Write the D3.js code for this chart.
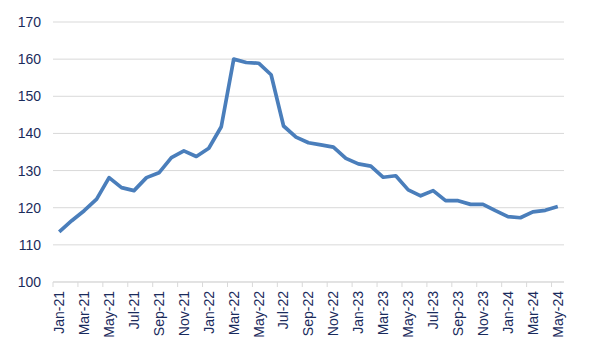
<!DOCTYPE html>
<html>
<head>
<meta charset="utf-8">
<script src="https://cdn.jsdelivr.net/npm/d3@7"></script>
<style>
  body { margin: 0; background: #fff; }
  text { font-family: "Liberation Sans", Arial, sans-serif; }
</style>
</head>
<body>
<svg id="chart" width="592" height="354"></svg>
<script>
"use strict";

var months = [
    "Jan-21","Feb-21","Mar-21","Apr-21","May-21","Jun-21","Jul-21","Aug-21","Sep-21","Oct-21","Nov-21","Dec-21",
    "Jan-22","Feb-22","Mar-22","Apr-22","May-22","Jun-22","Jul-22","Aug-22","Sep-22","Oct-22","Nov-22","Dec-22",
    "Jan-23","Feb-23","Mar-23","Apr-23","May-23","Jun-23","Jul-23","Aug-23","Sep-23","Oct-23","Nov-23","Dec-23",
    "Jan-24","Feb-24","Mar-24","Apr-24","May-24"
]

var values = [
    113.5, 116.5, 119.2, 122.3, 128.1, 125.4, 124.6, 128.1, 129.4, 133.5, 135.3, 133.8,
    136.0, 141.8, 160.0, 159.1, 158.9, 155.8, 142.0, 139.0, 137.5, 136.9, 136.3, 133.3,
    131.8, 131.2, 128.2, 128.6, 124.8, 123.2, 124.6, 121.9, 121.9, 120.9, 120.9, 119.2,
    117.6, 117.3, 118.9, 119.3, 120.3
]

var yTicks = [100, 110, 120, 130, 140, 150, 160, 170]

var margin = {top: 22, right: 28, bottom: 72, left: 53}
var svg = d3.select("#chart")
var width = +svg.attr("width") - margin.left - margin.right
var height = +svg.attr("height") - margin.top - margin.bottom

var textColor = "#1a2b5c"
var gridColor = "#d9d9d9"

var x = d3.scaleBand().domain(months).range([0, width]).padding(0)
var y = d3.scaleLinear().domain([100, 170]).range([height, 0])

var g = svg.append("g")
    .attr("transform", "translate(" + margin.left + "," + margin.top + ")")

// lignes de grille horizontales
g.selectAll(".grid")
    .data(yTicks)
    .enter().append("line")
    .attr("x1", 0)
    .attr("x2", width)
    .attr("y1", d => y(d))
    .attr("y2", d => y(d))
    .attr("stroke", gridColor)
    .attr("stroke-width", 1)

// axe Y (libellés seulement)
var yAxis = d3.axisLeft(y).tickValues(yTicks).tickSize(0).tickPadding(12)
g.append("g")
    .call(yAxis)
    .call(a => a.select(".domain").remove())
    .selectAll("text")
    .attr("fill", textColor)
    .style("font-size", "14px")

// axe X : graduations entre les catégories, une sur deux
var bounds = d3.range(0, months.length, 2).map(i => x(months[i]))
var xg = g.append("g").attr("transform", "translate(0," + height + ")")
xg.append("line")
    .attr("x1", 0).attr("x2", width)
    .attr("stroke", gridColor)
xg.selectAll(".tick")
    .data(bounds)
    .enter().append("line")
    .attr("x1", d => d).attr("x2", d => d)
    .attr("y1", 0).attr("y2", 5)
    .attr("stroke", gridColor)

xg.selectAll(".lbl")
    .data(months.filter((m, i) => i % 2 === 0))
    .enter().append("text")
    .attr("transform", d => "translate(" + (x(d) + x.bandwidth() / 2) + ",9) rotate(-90)")
    .attr("text-anchor", "end")
    .attr("dy", "0.35em")
    .attr("fill", textColor)
    .style("font-size", "14px")
    .text(d => d)

var line = d3.line()
    .x((d, i) => x(months[i]) + x.bandwidth() / 2)
    .y(d => y(d))

g.append("path")
    .datum(values)
    .attr("fill", "none")
    .attr("stroke", "#4a7ebb")
    .attr("stroke-width", 3.7)
    .attr("stroke-linejoin", "round")
    .attr("d", line)
</script>
</body>
</html>
